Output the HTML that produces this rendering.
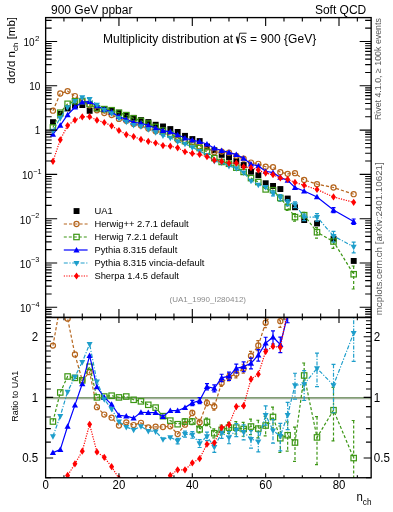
<!DOCTYPE html><html><head><meta charset="utf-8"><style>html,body{margin:0;padding:0;background:#fff;}svg{display:block;font-family:"Liberation Sans",sans-serif;will-change:transform;}</style></head><body>
<svg width="393" height="512" viewBox="0 0 393 512">
<rect width="393" height="512" fill="#fff"/>
<defs><clipPath id="cu"><rect x="45.65" y="17.6" width="325.5" height="299.84999999999997"/></clipPath><clipPath id="cr"><rect x="45.65" y="317.45" width="325.5" height="160.3"/></clipPath></defs>
<g clip-path="url(#cu)"><rect x="50.04" y="119.20" width="5.9" height="5.9" fill="#000"/><rect x="57.37" y="110.90" width="5.9" height="5.9" fill="#000"/><rect x="64.70" y="105.50" width="5.9" height="5.9" fill="#000"/><rect x="72.04" y="102.60" width="5.9" height="5.9" fill="#000"/><rect x="79.38" y="102.10" width="5.9" height="5.9" fill="#000"/><rect x="86.71" y="107.90" width="5.9" height="5.9" fill="#000"/><rect x="94.04" y="105.30" width="5.9" height="5.9" fill="#000"/><rect x="101.38" y="106.40" width="5.9" height="5.9" fill="#000"/><rect x="108.72" y="107.70" width="5.9" height="5.9" fill="#000"/><rect x="116.05" y="109.80" width="5.9" height="5.9" fill="#000"/><rect x="123.38" y="112.40" width="5.9" height="5.9" fill="#000"/><rect x="130.72" y="114.90" width="5.9" height="5.9" fill="#000"/><rect x="138.06" y="117.10" width="5.9" height="5.9" fill="#000"/><rect x="145.39" y="119.10" width="5.9" height="5.9" fill="#000"/><rect x="152.72" y="121.80" width="5.9" height="5.9" fill="#000"/><rect x="160.06" y="123.50" width="5.9" height="5.9" fill="#000"/><rect x="167.39" y="126.10" width="5.9" height="5.9" fill="#000"/><rect x="174.73" y="129.00" width="5.9" height="5.9" fill="#000"/><rect x="182.06" y="132.90" width="5.9" height="5.9" fill="#000"/><rect x="189.40" y="136.10" width="5.9" height="5.9" fill="#000"/><rect x="196.73" y="138.10" width="5.9" height="5.9" fill="#000"/><rect x="204.07" y="143.50" width="5.9" height="5.9" fill="#000"/><rect x="211.41" y="147.30" width="5.9" height="5.9" fill="#000"/><rect x="218.74" y="151.90" width="5.9" height="5.9" fill="#000"/><rect x="226.07" y="154.20" width="5.9" height="5.9" fill="#000"/><rect x="233.41" y="158.10" width="5.9" height="5.9" fill="#000"/><rect x="240.74" y="162.10" width="5.9" height="5.9" fill="#000"/><rect x="248.08" y="168.80" width="5.9" height="5.9" fill="#000"/><rect x="255.41" y="172.30" width="5.9" height="5.9" fill="#000"/><rect x="262.75" y="180.30" width="5.9" height="5.9" fill="#000"/><rect x="270.09" y="183.00" width="5.9" height="5.9" fill="#000"/><rect x="277.42" y="186.10" width="5.9" height="5.9" fill="#000"/><rect x="284.76" y="195.60" width="5.9" height="5.9" fill="#000"/><rect x="292.09" y="204.30" width="5.9" height="5.9" fill="#000"/><rect x="301.26" y="217.10" width="5.9" height="5.9" fill="#000"/><rect x="314.10" y="220.50" width="5.9" height="5.9" fill="#000"/><rect x="330.60" y="235.80" width="5.9" height="5.9" fill="#000"/><rect x="350.77" y="258.00" width="5.9" height="5.9" fill="#000"/><path d="M52.94,110.72 L60.27,93.52 L67.61,91.08 L74.94,96.06 L82.28,101.25 L89.61,105.26 L96.94,110.36 L104.28,113.07 L111.62,115.06 L118.95,118.89 L126.28,120.78 L133.62,123.88 L140.96,125.59 L148.29,128.62 L155.62,131.15 L162.96,132.91 L170.29,135.35 L177.63,139.95 L184.97,141.80 L192.30,142.42 L199.63,146.48 L206.97,147.61 L214.31,152.23 L221.64,151.62 L228.97,152.65 L236.31,155.80 L243.64,158.66 L250.98,162.57 L258.31,163.78 L265.65,166.76 L272.99,167.08 L280.32,172.24 L287.66,173.86 L294.99,173.21 L304.16,179.99 L317.00,184.13 L333.50,187.52 L353.67,194.22" fill="none" stroke="#b5651d" stroke-width="1.2" stroke-dasharray="3.2,2"/><circle cx="52.94" cy="110.72" r="2.55" fill="none" stroke="#b5651d" stroke-width="1.2"/><circle cx="60.27" cy="93.52" r="2.55" fill="none" stroke="#b5651d" stroke-width="1.2"/><circle cx="67.61" cy="91.08" r="2.55" fill="none" stroke="#b5651d" stroke-width="1.2"/><circle cx="74.94" cy="96.06" r="2.55" fill="none" stroke="#b5651d" stroke-width="1.2"/><circle cx="82.28" cy="101.25" r="2.55" fill="none" stroke="#b5651d" stroke-width="1.2"/><circle cx="89.61" cy="105.26" r="2.55" fill="none" stroke="#b5651d" stroke-width="1.2"/><circle cx="96.94" cy="110.36" r="2.55" fill="none" stroke="#b5651d" stroke-width="1.2"/><circle cx="104.28" cy="113.07" r="2.55" fill="none" stroke="#b5651d" stroke-width="1.2"/><circle cx="111.62" cy="115.06" r="2.55" fill="none" stroke="#b5651d" stroke-width="1.2"/><circle cx="118.95" cy="118.89" r="2.55" fill="none" stroke="#b5651d" stroke-width="1.2"/><circle cx="126.28" cy="120.78" r="2.55" fill="none" stroke="#b5651d" stroke-width="1.2"/><circle cx="133.62" cy="123.88" r="2.55" fill="none" stroke="#b5651d" stroke-width="1.2"/><circle cx="140.96" cy="125.59" r="2.55" fill="none" stroke="#b5651d" stroke-width="1.2"/><circle cx="148.29" cy="128.62" r="2.55" fill="none" stroke="#b5651d" stroke-width="1.2"/><circle cx="155.62" cy="131.15" r="2.55" fill="none" stroke="#b5651d" stroke-width="1.2"/><circle cx="162.96" cy="132.91" r="2.55" fill="none" stroke="#b5651d" stroke-width="1.2"/><circle cx="170.29" cy="135.35" r="2.55" fill="none" stroke="#b5651d" stroke-width="1.2"/><circle cx="177.63" cy="139.95" r="2.55" fill="none" stroke="#b5651d" stroke-width="1.2"/><circle cx="184.97" cy="141.80" r="2.55" fill="none" stroke="#b5651d" stroke-width="1.2"/><circle cx="192.30" cy="142.42" r="2.55" fill="none" stroke="#b5651d" stroke-width="1.2"/><circle cx="199.63" cy="146.48" r="2.55" fill="none" stroke="#b5651d" stroke-width="1.2"/><circle cx="206.97" cy="147.61" r="2.55" fill="none" stroke="#b5651d" stroke-width="1.2"/><circle cx="214.31" cy="152.23" r="2.55" fill="none" stroke="#b5651d" stroke-width="1.2"/><circle cx="221.64" cy="151.62" r="2.55" fill="none" stroke="#b5651d" stroke-width="1.2"/><circle cx="228.97" cy="152.65" r="2.55" fill="none" stroke="#b5651d" stroke-width="1.2"/><circle cx="236.31" cy="155.80" r="2.55" fill="none" stroke="#b5651d" stroke-width="1.2"/><circle cx="243.64" cy="158.66" r="2.55" fill="none" stroke="#b5651d" stroke-width="1.2"/><circle cx="250.98" cy="162.57" r="2.55" fill="none" stroke="#b5651d" stroke-width="1.2"/><circle cx="258.31" cy="163.78" r="2.55" fill="none" stroke="#b5651d" stroke-width="1.2"/><circle cx="265.65" cy="166.76" r="2.55" fill="none" stroke="#b5651d" stroke-width="1.2"/><circle cx="272.99" cy="167.08" r="2.55" fill="none" stroke="#b5651d" stroke-width="1.2"/><circle cx="280.32" cy="172.24" r="2.55" fill="none" stroke="#b5651d" stroke-width="1.2"/><circle cx="287.66" cy="173.86" r="2.55" fill="none" stroke="#b5651d" stroke-width="1.2"/><circle cx="294.99" cy="173.21" r="2.55" fill="none" stroke="#b5651d" stroke-width="1.2"/><circle cx="304.16" cy="179.99" r="2.55" fill="none" stroke="#b5651d" stroke-width="1.2"/><circle cx="317.00" cy="184.13" r="2.55" fill="none" stroke="#b5651d" stroke-width="1.2"/><circle cx="333.50" cy="187.52" r="2.55" fill="none" stroke="#b5651d" stroke-width="1.2"/><circle cx="353.67" cy="194.22" r="2.55" fill="none" stroke="#b5651d" stroke-width="1.2"/><path d="M52.94,127.41 L60.27,112.72 L67.61,103.80 L74.94,101.21 L82.28,101.25 L89.61,104.05 L96.94,108.20 L104.28,109.11 L111.62,110.22 L118.95,112.70 L126.28,115.11 L133.62,118.33 L140.96,120.87 L148.29,123.63 L155.62,126.94 L162.96,130.53 L170.29,134.10 L177.63,137.80 L184.97,141.11 L192.30,144.31 L199.63,148.03 L206.97,151.78 L214.31,158.08 L221.64,161.94 L228.97,163.74 L236.31,167.64 L243.64,171.94 L250.98,178.10 L258.31,182.06 L265.65,189.39 L272.99,190.19 L280.32,197.98 L287.66,206.82 L294.99,217.12 L304.16,215.18 L317.00,232.20 L333.50,241.51 L353.67,274.24" fill="none" stroke="#3c9614" stroke-width="1.2" stroke-dasharray="3,2"/><path d="M280.32,195.29V201.11M278.32,195.29H282.32M278.32,201.11H282.32" stroke="#3c9614" stroke-width="1.2" fill="none" stroke-dasharray="3,2"/><path d="M287.66,203.87V210.30M285.66,203.87H289.66M285.66,210.30H289.66" stroke="#3c9614" stroke-width="1.2" fill="none" stroke-dasharray="3,2"/><path d="M294.99,213.71V221.27M292.99,213.71H296.99M292.99,221.27H296.99" stroke="#3c9614" stroke-width="1.2" fill="none" stroke-dasharray="3,2"/><path d="M304.16,212.44V218.37M302.16,212.44H306.16M302.16,218.37H306.16" stroke="#3c9614" stroke-width="1.2" fill="none" stroke-dasharray="3,2"/><path d="M317.00,227.65V238.17M315.00,227.65H319.00M315.00,238.17H319.00" stroke="#3c9614" stroke-width="1.2" fill="none" stroke-dasharray="3,2"/><path d="M333.50,236.52V248.28M331.50,236.52H335.50M331.50,248.28H335.50" stroke="#3c9614" stroke-width="1.2" fill="none" stroke-dasharray="3,2"/><path d="M353.67,265.98V289.01M351.67,265.98H355.67M351.67,289.01H355.67" stroke="#3c9614" stroke-width="1.2" fill="none" stroke-dasharray="3,2"/><rect x="50.23" y="124.71" width="5.4" height="5.4" fill="none" stroke="#3c9614" stroke-width="1.2"/><rect x="57.57" y="110.02" width="5.4" height="5.4" fill="none" stroke="#3c9614" stroke-width="1.2"/><rect x="64.91" y="101.10" width="5.4" height="5.4" fill="none" stroke="#3c9614" stroke-width="1.2"/><rect x="72.24" y="98.51" width="5.4" height="5.4" fill="none" stroke="#3c9614" stroke-width="1.2"/><rect x="79.58" y="98.55" width="5.4" height="5.4" fill="none" stroke="#3c9614" stroke-width="1.2"/><rect x="86.91" y="101.35" width="5.4" height="5.4" fill="none" stroke="#3c9614" stroke-width="1.2"/><rect x="94.24" y="105.50" width="5.4" height="5.4" fill="none" stroke="#3c9614" stroke-width="1.2"/><rect x="101.58" y="106.41" width="5.4" height="5.4" fill="none" stroke="#3c9614" stroke-width="1.2"/><rect x="108.92" y="107.52" width="5.4" height="5.4" fill="none" stroke="#3c9614" stroke-width="1.2"/><rect x="116.25" y="110.00" width="5.4" height="5.4" fill="none" stroke="#3c9614" stroke-width="1.2"/><rect x="123.58" y="112.41" width="5.4" height="5.4" fill="none" stroke="#3c9614" stroke-width="1.2"/><rect x="130.92" y="115.63" width="5.4" height="5.4" fill="none" stroke="#3c9614" stroke-width="1.2"/><rect x="138.26" y="118.17" width="5.4" height="5.4" fill="none" stroke="#3c9614" stroke-width="1.2"/><rect x="145.59" y="120.93" width="5.4" height="5.4" fill="none" stroke="#3c9614" stroke-width="1.2"/><rect x="152.93" y="124.24" width="5.4" height="5.4" fill="none" stroke="#3c9614" stroke-width="1.2"/><rect x="160.26" y="127.83" width="5.4" height="5.4" fill="none" stroke="#3c9614" stroke-width="1.2"/><rect x="167.59" y="131.40" width="5.4" height="5.4" fill="none" stroke="#3c9614" stroke-width="1.2"/><rect x="174.93" y="135.10" width="5.4" height="5.4" fill="none" stroke="#3c9614" stroke-width="1.2"/><rect x="182.27" y="138.41" width="5.4" height="5.4" fill="none" stroke="#3c9614" stroke-width="1.2"/><rect x="189.60" y="141.61" width="5.4" height="5.4" fill="none" stroke="#3c9614" stroke-width="1.2"/><rect x="196.94" y="145.33" width="5.4" height="5.4" fill="none" stroke="#3c9614" stroke-width="1.2"/><rect x="204.27" y="149.08" width="5.4" height="5.4" fill="none" stroke="#3c9614" stroke-width="1.2"/><rect x="211.61" y="155.38" width="5.4" height="5.4" fill="none" stroke="#3c9614" stroke-width="1.2"/><rect x="218.94" y="159.24" width="5.4" height="5.4" fill="none" stroke="#3c9614" stroke-width="1.2"/><rect x="226.28" y="161.04" width="5.4" height="5.4" fill="none" stroke="#3c9614" stroke-width="1.2"/><rect x="233.61" y="164.94" width="5.4" height="5.4" fill="none" stroke="#3c9614" stroke-width="1.2"/><rect x="240.94" y="169.24" width="5.4" height="5.4" fill="none" stroke="#3c9614" stroke-width="1.2"/><rect x="248.28" y="175.40" width="5.4" height="5.4" fill="none" stroke="#3c9614" stroke-width="1.2"/><rect x="255.62" y="179.36" width="5.4" height="5.4" fill="none" stroke="#3c9614" stroke-width="1.2"/><rect x="262.95" y="186.69" width="5.4" height="5.4" fill="none" stroke="#3c9614" stroke-width="1.2"/><rect x="270.29" y="187.49" width="5.4" height="5.4" fill="none" stroke="#3c9614" stroke-width="1.2"/><rect x="277.62" y="195.28" width="5.4" height="5.4" fill="none" stroke="#3c9614" stroke-width="1.2"/><rect x="284.96" y="204.12" width="5.4" height="5.4" fill="none" stroke="#3c9614" stroke-width="1.2"/><rect x="292.29" y="214.42" width="5.4" height="5.4" fill="none" stroke="#3c9614" stroke-width="1.2"/><rect x="301.46" y="212.48" width="5.4" height="5.4" fill="none" stroke="#3c9614" stroke-width="1.2"/><rect x="314.30" y="229.50" width="5.4" height="5.4" fill="none" stroke="#3c9614" stroke-width="1.2"/><rect x="330.80" y="238.81" width="5.4" height="5.4" fill="none" stroke="#3c9614" stroke-width="1.2"/><rect x="350.97" y="271.54" width="5.4" height="5.4" fill="none" stroke="#3c9614" stroke-width="1.2"/><path d="M52.94,134.24 L60.27,125.27 L67.61,114.75 L74.94,107.21 L82.28,102.01 L89.61,101.64 L96.94,105.90 L104.28,109.30 L111.62,112.14 L118.95,116.64 L126.28,119.43 L133.62,122.36 L140.96,123.26 L148.29,125.35 L155.62,128.05 L162.96,130.60 L170.29,131.92 L177.63,134.82 L184.97,138.04 L192.30,140.21 L199.63,141.71 L206.97,144.05 L214.31,148.21 L221.64,150.51 L228.97,152.43 L236.31,154.61 L243.64,158.23 L250.98,164.21 L258.31,165.92 L265.65,171.26 L272.99,172.66 L280.32,177.37 L287.66,180.41 L294.99,187.53 L304.16,191.06 L317.00,196.97 L333.50,209.98 L353.67,221.48" fill="none" stroke="#0000ff" stroke-width="1.2"/><path d="M333.50,207.62V212.67M331.50,207.62H335.50M331.50,212.67H335.50" stroke="#0000ff" stroke-width="1.2" fill="none"/><path d="M353.67,219.02V224.29M351.67,219.02H355.67M351.67,224.29H355.67" stroke="#0000ff" stroke-width="1.2" fill="none"/><path d="M52.94,131.14L56.04,136.64L49.84,136.64Z" fill="#0000ff"/><path d="M60.27,122.17L63.37,127.67L57.17,127.67Z" fill="#0000ff"/><path d="M67.61,111.65L70.70,117.15L64.51,117.15Z" fill="#0000ff"/><path d="M74.94,104.11L78.04,109.61L71.84,109.61Z" fill="#0000ff"/><path d="M82.28,98.91L85.38,104.41L79.18,104.41Z" fill="#0000ff"/><path d="M89.61,98.54L92.71,104.04L86.51,104.04Z" fill="#0000ff"/><path d="M96.94,102.80L100.04,108.30L93.84,108.30Z" fill="#0000ff"/><path d="M104.28,106.20L107.38,111.70L101.18,111.70Z" fill="#0000ff"/><path d="M111.62,109.04L114.72,114.54L108.52,114.54Z" fill="#0000ff"/><path d="M118.95,113.54L122.05,119.04L115.85,119.04Z" fill="#0000ff"/><path d="M126.28,116.33L129.38,121.83L123.19,121.83Z" fill="#0000ff"/><path d="M133.62,119.26L136.72,124.76L130.52,124.76Z" fill="#0000ff"/><path d="M140.96,120.16L144.06,125.66L137.86,125.66Z" fill="#0000ff"/><path d="M148.29,122.25L151.39,127.75L145.19,127.75Z" fill="#0000ff"/><path d="M155.62,124.95L158.72,130.45L152.53,130.45Z" fill="#0000ff"/><path d="M162.96,127.50L166.06,133.00L159.86,133.00Z" fill="#0000ff"/><path d="M170.29,128.82L173.39,134.32L167.19,134.32Z" fill="#0000ff"/><path d="M177.63,131.72L180.73,137.22L174.53,137.22Z" fill="#0000ff"/><path d="M184.97,134.94L188.06,140.44L181.87,140.44Z" fill="#0000ff"/><path d="M192.30,137.11L195.40,142.61L189.20,142.61Z" fill="#0000ff"/><path d="M199.63,138.61L202.73,144.11L196.53,144.11Z" fill="#0000ff"/><path d="M206.97,140.95L210.07,146.45L203.87,146.45Z" fill="#0000ff"/><path d="M214.31,145.11L217.41,150.61L211.21,150.61Z" fill="#0000ff"/><path d="M221.64,147.41L224.74,152.91L218.54,152.91Z" fill="#0000ff"/><path d="M228.97,149.33L232.07,154.83L225.88,154.83Z" fill="#0000ff"/><path d="M236.31,151.51L239.41,157.01L233.21,157.01Z" fill="#0000ff"/><path d="M243.64,155.13L246.74,160.63L240.54,160.63Z" fill="#0000ff"/><path d="M250.98,161.11L254.08,166.61L247.88,166.61Z" fill="#0000ff"/><path d="M258.31,162.82L261.42,168.32L255.22,168.32Z" fill="#0000ff"/><path d="M265.65,168.16L268.75,173.66L262.55,173.66Z" fill="#0000ff"/><path d="M272.99,169.56L276.09,175.06L269.88,175.06Z" fill="#0000ff"/><path d="M280.32,174.27L283.42,179.77L277.22,179.77Z" fill="#0000ff"/><path d="M287.66,177.31L290.76,182.81L284.56,182.81Z" fill="#0000ff"/><path d="M294.99,184.43L298.09,189.93L291.89,189.93Z" fill="#0000ff"/><path d="M304.16,187.96L307.26,193.46L301.06,193.46Z" fill="#0000ff"/><path d="M317.00,193.87L320.10,199.37L313.89,199.37Z" fill="#0000ff"/><path d="M333.50,206.88L336.60,212.38L330.40,212.38Z" fill="#0000ff"/><path d="M353.67,218.38L356.77,223.88L350.57,223.88Z" fill="#0000ff"/><path d="M52.94,130.66 L60.27,117.90 L67.61,107.13 L74.94,100.98 L82.28,97.21 L89.61,99.07 L96.94,104.69 L104.28,109.73 L111.62,113.17 L118.95,118.01 L126.28,121.81 L133.62,124.94 L140.96,126.35 L148.29,129.36 L155.62,132.18 L162.96,135.60 L170.29,137.77 L177.63,141.50 L184.97,143.85 L192.30,147.23 L199.63,151.12 L206.97,154.96 L214.31,161.12 L221.64,162.59 L228.97,165.90 L236.31,168.14 L243.64,172.62 L250.98,180.84 L258.31,184.87 L265.65,187.07 L272.99,193.18 L280.32,197.50 L287.66,202.37 L294.99,204.53 L304.16,217.13 L317.00,217.01 L333.50,236.03 L353.67,246.76" fill="none" stroke="#1e9ecb" stroke-width="1.2" stroke-dasharray="4,1.6,1.2,1.6"/><path d="M272.99,190.76V195.95M270.99,190.76H274.99M270.99,195.95H274.99" stroke="#1e9ecb" stroke-width="1.2" fill="none" stroke-dasharray="4,1.6,1.2,1.6"/><path d="M280.32,194.71V200.75M278.32,194.71H282.32M278.32,200.75H282.32" stroke="#1e9ecb" stroke-width="1.2" fill="none" stroke-dasharray="4,1.6,1.2,1.6"/><path d="M287.66,199.59V205.60M285.66,199.59H289.66M285.66,205.60H289.66" stroke="#1e9ecb" stroke-width="1.2" fill="none" stroke-dasharray="4,1.6,1.2,1.6"/><path d="M294.99,201.89V207.58M292.99,201.89H296.99M292.99,207.58H296.99" stroke="#1e9ecb" stroke-width="1.2" fill="none" stroke-dasharray="4,1.6,1.2,1.6"/><path d="M304.16,214.13V220.69M302.16,214.13H306.16M302.16,220.69H306.16" stroke="#1e9ecb" stroke-width="1.2" fill="none" stroke-dasharray="4,1.6,1.2,1.6"/><path d="M317.00,213.68V221.03M315.00,213.68H319.00M315.00,221.03H319.00" stroke="#1e9ecb" stroke-width="1.2" fill="none" stroke-dasharray="4,1.6,1.2,1.6"/><path d="M333.50,231.43V242.08M331.50,231.43H335.50M331.50,242.08H335.50" stroke="#1e9ecb" stroke-width="1.2" fill="none" stroke-dasharray="4,1.6,1.2,1.6"/><path d="M353.67,242.08V252.97M351.67,242.08H355.67M351.67,252.97H355.67" stroke="#1e9ecb" stroke-width="1.2" fill="none" stroke-dasharray="4,1.6,1.2,1.6"/><path d="M52.94,134.16L55.94,128.66L49.94,128.66Z" fill="#1e9ecb"/><path d="M60.27,121.40L63.27,115.90L57.27,115.90Z" fill="#1e9ecb"/><path d="M67.61,110.63L70.61,105.13L64.61,105.13Z" fill="#1e9ecb"/><path d="M74.94,104.48L77.94,98.98L71.94,98.98Z" fill="#1e9ecb"/><path d="M82.28,100.71L85.28,95.21L79.28,95.21Z" fill="#1e9ecb"/><path d="M89.61,102.57L92.61,97.07L86.61,97.07Z" fill="#1e9ecb"/><path d="M96.94,108.19L99.94,102.69L93.94,102.69Z" fill="#1e9ecb"/><path d="M104.28,113.23L107.28,107.73L101.28,107.73Z" fill="#1e9ecb"/><path d="M111.62,116.67L114.62,111.17L108.62,111.17Z" fill="#1e9ecb"/><path d="M118.95,121.51L121.95,116.01L115.95,116.01Z" fill="#1e9ecb"/><path d="M126.28,125.31L129.28,119.81L123.28,119.81Z" fill="#1e9ecb"/><path d="M133.62,128.44L136.62,122.94L130.62,122.94Z" fill="#1e9ecb"/><path d="M140.96,129.85L143.96,124.35L137.96,124.35Z" fill="#1e9ecb"/><path d="M148.29,132.86L151.29,127.36L145.29,127.36Z" fill="#1e9ecb"/><path d="M155.62,135.68L158.62,130.18L152.62,130.18Z" fill="#1e9ecb"/><path d="M162.96,139.10L165.96,133.60L159.96,133.60Z" fill="#1e9ecb"/><path d="M170.29,141.27L173.29,135.77L167.29,135.77Z" fill="#1e9ecb"/><path d="M177.63,145.00L180.63,139.50L174.63,139.50Z" fill="#1e9ecb"/><path d="M184.97,147.35L187.97,141.85L181.97,141.85Z" fill="#1e9ecb"/><path d="M192.30,150.73L195.30,145.23L189.30,145.23Z" fill="#1e9ecb"/><path d="M199.63,154.62L202.63,149.12L196.63,149.12Z" fill="#1e9ecb"/><path d="M206.97,158.46L209.97,152.96L203.97,152.96Z" fill="#1e9ecb"/><path d="M214.31,164.62L217.31,159.12L211.31,159.12Z" fill="#1e9ecb"/><path d="M221.64,166.09L224.64,160.59L218.64,160.59Z" fill="#1e9ecb"/><path d="M228.97,169.40L231.97,163.90L225.97,163.90Z" fill="#1e9ecb"/><path d="M236.31,171.64L239.31,166.14L233.31,166.14Z" fill="#1e9ecb"/><path d="M243.64,176.12L246.64,170.62L240.64,170.62Z" fill="#1e9ecb"/><path d="M250.98,184.34L253.98,178.84L247.98,178.84Z" fill="#1e9ecb"/><path d="M258.31,188.37L261.31,182.87L255.31,182.87Z" fill="#1e9ecb"/><path d="M265.65,190.57L268.65,185.07L262.65,185.07Z" fill="#1e9ecb"/><path d="M272.99,196.68L275.99,191.18L269.99,191.18Z" fill="#1e9ecb"/><path d="M280.32,201.00L283.32,195.50L277.32,195.50Z" fill="#1e9ecb"/><path d="M287.66,205.87L290.66,200.37L284.66,200.37Z" fill="#1e9ecb"/><path d="M294.99,208.03L297.99,202.53L291.99,202.53Z" fill="#1e9ecb"/><path d="M304.16,220.63L307.16,215.13L301.16,215.13Z" fill="#1e9ecb"/><path d="M317.00,220.51L320.00,215.01L314.00,215.01Z" fill="#1e9ecb"/><path d="M333.50,239.53L336.50,234.03L330.50,234.03Z" fill="#1e9ecb"/><path d="M353.67,250.26L356.67,244.76L350.67,244.76Z" fill="#1e9ecb"/><path d="M52.94,161.35 L60.27,139.79 L67.61,125.55 L74.94,120.11 L82.28,116.82 L89.61,116.72 L96.94,120.20 L104.28,122.48 L111.62,125.83 L118.95,130.52 L126.28,134.53 L133.62,136.62 L140.96,139.39 L148.29,141.39 L155.62,143.01 L162.96,145.53 L170.29,146.15 L177.63,147.83 L184.97,151.73 L192.30,153.40 L199.63,154.45 L206.97,156.68 L214.31,160.19 L221.64,161.44 L228.97,163.08 L236.31,163.03 L243.64,166.86 L250.98,167.69 L258.31,170.11 L265.65,173.10 L272.99,174.70 L280.32,178.01 L287.66,179.32 L294.99,182.40 L304.16,185.37 L317.00,189.48 L333.50,196.97 L353.67,202.33" fill="none" stroke="#ff0000" stroke-width="1.2" stroke-dasharray="1.2,1.3"/><path d="M52.94,157.75L55.44,161.35L52.94,164.95L50.44,161.35Z" fill="#ff0000"/><path d="M60.27,136.19L62.77,139.79L60.27,143.39L57.77,139.79Z" fill="#ff0000"/><path d="M67.61,121.95L70.11,125.55L67.61,129.15L65.11,125.55Z" fill="#ff0000"/><path d="M74.94,116.51L77.44,120.11L74.94,123.71L72.44,120.11Z" fill="#ff0000"/><path d="M82.28,113.22L84.78,116.82L82.28,120.42L79.78,116.82Z" fill="#ff0000"/><path d="M89.61,113.12L92.11,116.72L89.61,120.32L87.11,116.72Z" fill="#ff0000"/><path d="M96.94,116.60L99.44,120.20L96.94,123.80L94.44,120.20Z" fill="#ff0000"/><path d="M104.28,118.88L106.78,122.48L104.28,126.08L101.78,122.48Z" fill="#ff0000"/><path d="M111.62,122.23L114.12,125.83L111.62,129.43L109.12,125.83Z" fill="#ff0000"/><path d="M118.95,126.92L121.45,130.52L118.95,134.12L116.45,130.52Z" fill="#ff0000"/><path d="M126.28,130.93L128.78,134.53L126.28,138.13L123.78,134.53Z" fill="#ff0000"/><path d="M133.62,133.02L136.12,136.62L133.62,140.22L131.12,136.62Z" fill="#ff0000"/><path d="M140.96,135.79L143.46,139.39L140.96,142.99L138.46,139.39Z" fill="#ff0000"/><path d="M148.29,137.79L150.79,141.39L148.29,144.99L145.79,141.39Z" fill="#ff0000"/><path d="M155.62,139.41L158.12,143.01L155.62,146.61L153.12,143.01Z" fill="#ff0000"/><path d="M162.96,141.93L165.46,145.53L162.96,149.13L160.46,145.53Z" fill="#ff0000"/><path d="M170.29,142.55L172.79,146.15L170.29,149.75L167.79,146.15Z" fill="#ff0000"/><path d="M177.63,144.23L180.13,147.83L177.63,151.43L175.13,147.83Z" fill="#ff0000"/><path d="M184.97,148.13L187.47,151.73L184.97,155.33L182.47,151.73Z" fill="#ff0000"/><path d="M192.30,149.80L194.80,153.40L192.30,157.00L189.80,153.40Z" fill="#ff0000"/><path d="M199.63,150.85L202.13,154.45L199.63,158.05L197.13,154.45Z" fill="#ff0000"/><path d="M206.97,153.08L209.47,156.68L206.97,160.28L204.47,156.68Z" fill="#ff0000"/><path d="M214.31,156.59L216.81,160.19L214.31,163.79L211.81,160.19Z" fill="#ff0000"/><path d="M221.64,157.84L224.14,161.44L221.64,165.04L219.14,161.44Z" fill="#ff0000"/><path d="M228.97,159.48L231.47,163.08L228.97,166.68L226.47,163.08Z" fill="#ff0000"/><path d="M236.31,159.43L238.81,163.03L236.31,166.63L233.81,163.03Z" fill="#ff0000"/><path d="M243.64,163.26L246.14,166.86L243.64,170.46L241.14,166.86Z" fill="#ff0000"/><path d="M250.98,164.09L253.48,167.69L250.98,171.29L248.48,167.69Z" fill="#ff0000"/><path d="M258.31,166.51L260.81,170.11L258.31,173.71L255.81,170.11Z" fill="#ff0000"/><path d="M265.65,169.50L268.15,173.10L265.65,176.70L263.15,173.10Z" fill="#ff0000"/><path d="M272.99,171.10L275.49,174.70L272.99,178.30L270.49,174.70Z" fill="#ff0000"/><path d="M280.32,174.41L282.82,178.01L280.32,181.61L277.82,178.01Z" fill="#ff0000"/><path d="M287.66,175.72L290.16,179.32L287.66,182.92L285.16,179.32Z" fill="#ff0000"/><path d="M294.99,178.80L297.49,182.40L294.99,186.00L292.49,182.40Z" fill="#ff0000"/><path d="M304.16,181.77L306.66,185.37L304.16,188.97L301.66,185.37Z" fill="#ff0000"/><path d="M317.00,185.88L319.50,189.48L317.00,193.08L314.50,189.48Z" fill="#ff0000"/><path d="M333.50,193.37L336.00,196.97L333.50,200.57L331.00,196.97Z" fill="#ff0000"/><path d="M353.67,198.73L356.17,202.33L353.67,205.93L351.17,202.33Z" fill="#ff0000"/></g>
<g clip-path="url(#cr)"><path d="M45.65,399.00H371.15" stroke="#c8c8c8" stroke-width="0.9"/><path d="M45.65,397.80H371.15" stroke="#587c47" stroke-width="1.3"/><path d="M52.94,345.62 L60.27,305.14 L67.61,318.63 L74.94,354.48 L82.28,380.36 L89.61,372.18 L96.94,407.21 L104.28,414.55 L111.62,417.70 L118.95,425.54 L126.28,422.34 L133.62,425.06 L140.96,422.81 L148.29,427.49 L155.62,426.76 L162.96,427.00 L170.29,426.27 L177.63,434.03 L184.97,424.70 L192.30,412.97 L199.63,422.34 L206.97,402.91 L214.31,406.62 L221.64,382.92 L228.97,377.18 L236.31,373.77 L243.64,368.58 L250.98,355.89 L258.31,345.48 L265.65,322.63 L272.99,311.79 L280.32,321.15 L287.66,285.31 L294.99,242.82 L304.16,215.43 L317.00,218.77 L333.50,164.60 L353.67,94.11" fill="none" stroke="#b5651d" stroke-width="1.2" stroke-dasharray="3.2,2"/><path d="M192.30,410.46V415.55M190.30,410.46H194.30M190.30,415.55H194.30" stroke="#b5651d" stroke-width="1.2" fill="none" stroke-dasharray="3.2,2"/><path d="M199.63,419.38V425.41M197.63,419.38H201.63M197.63,425.41H201.63" stroke="#b5651d" stroke-width="1.2" fill="none" stroke-dasharray="3.2,2"/><path d="M206.97,399.93V405.99M204.97,399.93H208.97M204.97,405.99H208.97" stroke="#b5651d" stroke-width="1.2" fill="none" stroke-dasharray="3.2,2"/><path d="M214.31,403.21V410.16M212.31,403.21H216.31M212.31,410.16H216.31" stroke="#b5651d" stroke-width="1.2" fill="none" stroke-dasharray="3.2,2"/><path d="M221.64,379.57V386.39M219.64,379.57H223.64M219.64,386.39H223.64" stroke="#b5651d" stroke-width="1.2" fill="none" stroke-dasharray="3.2,2"/><path d="M228.97,373.55V380.96M226.97,373.55H230.97M226.97,380.96H230.97" stroke="#b5651d" stroke-width="1.2" fill="none" stroke-dasharray="3.2,2"/><path d="M236.31,369.79V377.94M234.31,369.79H238.31M234.31,377.94H238.31" stroke="#b5651d" stroke-width="1.2" fill="none" stroke-dasharray="3.2,2"/><path d="M243.64,364.25V373.14M241.64,364.25H245.64M241.64,373.14H245.64" stroke="#b5651d" stroke-width="1.2" fill="none" stroke-dasharray="3.2,2"/><path d="M250.98,351.36V360.66M248.98,351.36H252.98M248.98,360.66H252.98" stroke="#b5651d" stroke-width="1.2" fill="none" stroke-dasharray="3.2,2"/><path d="M258.31,340.70V350.53M256.31,340.70H260.31M256.31,350.53H260.31" stroke="#b5651d" stroke-width="1.2" fill="none" stroke-dasharray="3.2,2"/><path d="M265.65,317.92V327.61M263.65,317.92H267.65M263.65,327.61H267.65" stroke="#b5651d" stroke-width="1.2" fill="none" stroke-dasharray="3.2,2"/><path d="M272.99,306.82V317.05M270.99,306.82H274.99M270.99,317.05H274.99" stroke="#b5651d" stroke-width="1.2" fill="none" stroke-dasharray="3.2,2"/><path d="M280.32,315.30V327.43M278.32,315.30H282.32M278.32,327.43H282.32" stroke="#b5651d" stroke-width="1.2" fill="none" stroke-dasharray="3.2,2"/><path d="M287.66,279.93V291.03M285.66,279.93H289.66M285.66,291.03H289.66" stroke="#b5651d" stroke-width="1.2" fill="none" stroke-dasharray="3.2,2"/><path d="M294.99,238.07V247.84M292.99,238.07H296.99M292.99,247.84H296.99" stroke="#b5651d" stroke-width="1.2" fill="none" stroke-dasharray="3.2,2"/><path d="M304.16,210.73V220.39M302.16,210.73H306.16M302.16,220.39H306.16" stroke="#b5651d" stroke-width="1.2" fill="none" stroke-dasharray="3.2,2"/><path d="M317.00,212.95V225.01M315.00,212.95H319.00M315.00,225.01H319.00" stroke="#b5651d" stroke-width="1.2" fill="none" stroke-dasharray="3.2,2"/><path d="M333.50,159.04V170.54M331.50,159.04H335.50M331.50,170.54H335.50" stroke="#b5651d" stroke-width="1.2" fill="none" stroke-dasharray="3.2,2"/><path d="M353.67,88.99V99.56M351.67,88.99H355.67M351.67,99.56H355.67" stroke="#b5651d" stroke-width="1.2" fill="none" stroke-dasharray="3.2,2"/><circle cx="52.94" cy="345.62" r="2.55" fill="none" stroke="#b5651d" stroke-width="1.2"/><circle cx="60.27" cy="305.14" r="2.55" fill="none" stroke="#b5651d" stroke-width="1.2"/><circle cx="67.61" cy="318.63" r="2.55" fill="none" stroke="#b5651d" stroke-width="1.2"/><circle cx="74.94" cy="354.48" r="2.55" fill="none" stroke="#b5651d" stroke-width="1.2"/><circle cx="82.28" cy="380.36" r="2.55" fill="none" stroke="#b5651d" stroke-width="1.2"/><circle cx="89.61" cy="372.18" r="2.55" fill="none" stroke="#b5651d" stroke-width="1.2"/><circle cx="96.94" cy="407.21" r="2.55" fill="none" stroke="#b5651d" stroke-width="1.2"/><circle cx="104.28" cy="414.55" r="2.55" fill="none" stroke="#b5651d" stroke-width="1.2"/><circle cx="111.62" cy="417.70" r="2.55" fill="none" stroke="#b5651d" stroke-width="1.2"/><circle cx="118.95" cy="425.54" r="2.55" fill="none" stroke="#b5651d" stroke-width="1.2"/><circle cx="126.28" cy="422.34" r="2.55" fill="none" stroke="#b5651d" stroke-width="1.2"/><circle cx="133.62" cy="425.06" r="2.55" fill="none" stroke="#b5651d" stroke-width="1.2"/><circle cx="140.96" cy="422.81" r="2.55" fill="none" stroke="#b5651d" stroke-width="1.2"/><circle cx="148.29" cy="427.49" r="2.55" fill="none" stroke="#b5651d" stroke-width="1.2"/><circle cx="155.62" cy="426.76" r="2.55" fill="none" stroke="#b5651d" stroke-width="1.2"/><circle cx="162.96" cy="427.00" r="2.55" fill="none" stroke="#b5651d" stroke-width="1.2"/><circle cx="170.29" cy="426.27" r="2.55" fill="none" stroke="#b5651d" stroke-width="1.2"/><circle cx="177.63" cy="434.03" r="2.55" fill="none" stroke="#b5651d" stroke-width="1.2"/><circle cx="184.97" cy="424.70" r="2.55" fill="none" stroke="#b5651d" stroke-width="1.2"/><circle cx="192.30" cy="412.97" r="2.55" fill="none" stroke="#b5651d" stroke-width="1.2"/><circle cx="199.63" cy="422.34" r="2.55" fill="none" stroke="#b5651d" stroke-width="1.2"/><circle cx="206.97" cy="402.91" r="2.55" fill="none" stroke="#b5651d" stroke-width="1.2"/><circle cx="214.31" cy="406.62" r="2.55" fill="none" stroke="#b5651d" stroke-width="1.2"/><circle cx="221.64" cy="382.92" r="2.55" fill="none" stroke="#b5651d" stroke-width="1.2"/><circle cx="228.97" cy="377.18" r="2.55" fill="none" stroke="#b5651d" stroke-width="1.2"/><circle cx="236.31" cy="373.77" r="2.55" fill="none" stroke="#b5651d" stroke-width="1.2"/><circle cx="243.64" cy="368.58" r="2.55" fill="none" stroke="#b5651d" stroke-width="1.2"/><circle cx="250.98" cy="355.89" r="2.55" fill="none" stroke="#b5651d" stroke-width="1.2"/><circle cx="258.31" cy="345.48" r="2.55" fill="none" stroke="#b5651d" stroke-width="1.2"/><circle cx="265.65" cy="322.63" r="2.55" fill="none" stroke="#b5651d" stroke-width="1.2"/><circle cx="272.99" cy="311.79" r="2.55" fill="none" stroke="#b5651d" stroke-width="1.2"/><circle cx="280.32" cy="321.15" r="2.55" fill="none" stroke="#b5651d" stroke-width="1.2"/><circle cx="287.66" cy="285.31" r="2.55" fill="none" stroke="#b5651d" stroke-width="1.2"/><circle cx="294.99" cy="242.82" r="2.55" fill="none" stroke="#b5651d" stroke-width="1.2"/><circle cx="304.16" cy="215.43" r="2.55" fill="none" stroke="#b5651d" stroke-width="1.2"/><circle cx="317.00" cy="218.77" r="2.55" fill="none" stroke="#b5651d" stroke-width="1.2"/><circle cx="333.50" cy="164.60" r="2.55" fill="none" stroke="#b5651d" stroke-width="1.2"/><circle cx="353.67" cy="94.11" r="2.55" fill="none" stroke="#b5651d" stroke-width="1.2"/><path d="M52.94,421.53 L60.27,392.47 L67.61,376.48 L74.94,377.87 L82.28,380.36 L89.61,366.71 L96.94,397.40 L104.28,396.53 L111.62,395.67 L118.95,397.40 L126.28,396.53 L133.62,399.80 L140.96,401.34 L148.29,404.79 L155.62,407.60 L162.96,416.16 L170.29,420.61 L177.63,424.22 L184.97,421.53 L192.30,421.53 L199.63,429.37 L206.97,421.88 L214.31,433.23 L221.64,429.87 L228.97,427.62 L236.31,427.62 L243.64,428.99 L250.98,426.51 L258.31,428.61 L265.65,425.54 L272.99,416.93 L280.32,438.25 L287.66,435.23 L294.99,442.54 L304.16,375.46 L317.00,437.42 L333.50,410.19 L353.67,458.06" fill="none" stroke="#3c9614" stroke-width="1.2" stroke-dasharray="3,2"/><path d="M184.97,418.93V424.21M182.97,418.93H186.97M182.97,424.21H186.97" stroke="#3c9614" stroke-width="1.2" fill="none" stroke-dasharray="3,2"/><path d="M192.30,418.61V424.55M190.30,418.61H194.30M190.30,424.55H194.30" stroke="#3c9614" stroke-width="1.2" fill="none" stroke-dasharray="3,2"/><path d="M199.63,425.95V432.92M197.63,425.95H201.63M197.63,432.92H201.63" stroke="#3c9614" stroke-width="1.2" fill="none" stroke-dasharray="3,2"/><path d="M206.97,418.21V425.71M204.97,418.21H208.97M204.97,425.71H208.97" stroke="#3c9614" stroke-width="1.2" fill="none" stroke-dasharray="3,2"/><path d="M214.31,428.85V437.85M212.31,428.85H216.31M212.31,437.85H216.31" stroke="#3c9614" stroke-width="1.2" fill="none" stroke-dasharray="3,2"/><path d="M221.64,425.06V434.97M219.64,425.06H223.64M219.64,434.97H223.64" stroke="#3c9614" stroke-width="1.2" fill="none" stroke-dasharray="3,2"/><path d="M228.97,422.30V433.28M226.97,422.30H230.97M226.97,433.28H230.97" stroke="#3c9614" stroke-width="1.2" fill="none" stroke-dasharray="3,2"/><path d="M236.31,421.66V434.01M234.31,421.66H238.31M234.31,434.01H238.31" stroke="#3c9614" stroke-width="1.2" fill="none" stroke-dasharray="3,2"/><path d="M243.64,422.28V436.26M241.64,422.28H245.64M241.64,436.26H245.64" stroke="#3c9614" stroke-width="1.2" fill="none" stroke-dasharray="3,2"/><path d="M250.98,419.11V434.60M248.98,419.11H252.98M248.98,434.60H252.98" stroke="#3c9614" stroke-width="1.2" fill="none" stroke-dasharray="3,2"/><path d="M258.31,420.25V437.86M256.31,420.25H260.31M256.31,437.86H260.31" stroke="#3c9614" stroke-width="1.2" fill="none" stroke-dasharray="3,2"/><path d="M265.65,416.36V435.80M263.65,416.36H267.65M263.65,435.80H267.65" stroke="#3c9614" stroke-width="1.2" fill="none" stroke-dasharray="3,2"/><path d="M272.99,407.14V427.95M270.99,407.14H274.99M270.99,427.95H274.99" stroke="#3c9614" stroke-width="1.2" fill="none" stroke-dasharray="3,2"/><path d="M280.32,426.01V452.48M278.32,426.01H282.32M278.32,452.48H282.32" stroke="#3c9614" stroke-width="1.2" fill="none" stroke-dasharray="3,2"/><path d="M287.66,421.82V451.08M285.66,421.82H289.66M285.66,451.08H289.66" stroke="#3c9614" stroke-width="1.2" fill="none" stroke-dasharray="3,2"/><path d="M294.99,427.03V461.41M292.99,427.03H296.99M292.99,461.41H296.99" stroke="#3c9614" stroke-width="1.2" fill="none" stroke-dasharray="3,2"/><path d="M304.16,363.01V389.97M302.16,363.01H306.16M302.16,389.97H306.16" stroke="#3c9614" stroke-width="1.2" fill="none" stroke-dasharray="3,2"/><path d="M317.00,416.72V464.57M315.00,416.72H319.00M315.00,464.57H319.00" stroke="#3c9614" stroke-width="1.2" fill="none" stroke-dasharray="3,2"/><path d="M333.50,387.47V440.96M331.50,387.47H335.50M331.50,440.96H335.50" stroke="#3c9614" stroke-width="1.2" fill="none" stroke-dasharray="3,2"/><path d="M353.67,420.50V525.27M351.67,420.50H355.67M351.67,525.27H355.67" stroke="#3c9614" stroke-width="1.2" fill="none" stroke-dasharray="3,2"/><rect x="50.23" y="418.83" width="5.4" height="5.4" fill="none" stroke="#3c9614" stroke-width="1.2"/><rect x="57.57" y="389.77" width="5.4" height="5.4" fill="none" stroke="#3c9614" stroke-width="1.2"/><rect x="64.91" y="373.78" width="5.4" height="5.4" fill="none" stroke="#3c9614" stroke-width="1.2"/><rect x="72.24" y="375.17" width="5.4" height="5.4" fill="none" stroke="#3c9614" stroke-width="1.2"/><rect x="79.58" y="377.66" width="5.4" height="5.4" fill="none" stroke="#3c9614" stroke-width="1.2"/><rect x="86.91" y="364.01" width="5.4" height="5.4" fill="none" stroke="#3c9614" stroke-width="1.2"/><rect x="94.24" y="394.70" width="5.4" height="5.4" fill="none" stroke="#3c9614" stroke-width="1.2"/><rect x="101.58" y="393.83" width="5.4" height="5.4" fill="none" stroke="#3c9614" stroke-width="1.2"/><rect x="108.92" y="392.97" width="5.4" height="5.4" fill="none" stroke="#3c9614" stroke-width="1.2"/><rect x="116.25" y="394.70" width="5.4" height="5.4" fill="none" stroke="#3c9614" stroke-width="1.2"/><rect x="123.58" y="393.83" width="5.4" height="5.4" fill="none" stroke="#3c9614" stroke-width="1.2"/><rect x="130.92" y="397.10" width="5.4" height="5.4" fill="none" stroke="#3c9614" stroke-width="1.2"/><rect x="138.26" y="398.64" width="5.4" height="5.4" fill="none" stroke="#3c9614" stroke-width="1.2"/><rect x="145.59" y="402.09" width="5.4" height="5.4" fill="none" stroke="#3c9614" stroke-width="1.2"/><rect x="152.93" y="404.90" width="5.4" height="5.4" fill="none" stroke="#3c9614" stroke-width="1.2"/><rect x="160.26" y="413.46" width="5.4" height="5.4" fill="none" stroke="#3c9614" stroke-width="1.2"/><rect x="167.59" y="417.91" width="5.4" height="5.4" fill="none" stroke="#3c9614" stroke-width="1.2"/><rect x="174.93" y="421.52" width="5.4" height="5.4" fill="none" stroke="#3c9614" stroke-width="1.2"/><rect x="182.27" y="418.83" width="5.4" height="5.4" fill="none" stroke="#3c9614" stroke-width="1.2"/><rect x="189.60" y="418.83" width="5.4" height="5.4" fill="none" stroke="#3c9614" stroke-width="1.2"/><rect x="196.94" y="426.67" width="5.4" height="5.4" fill="none" stroke="#3c9614" stroke-width="1.2"/><rect x="204.27" y="419.18" width="5.4" height="5.4" fill="none" stroke="#3c9614" stroke-width="1.2"/><rect x="211.61" y="430.53" width="5.4" height="5.4" fill="none" stroke="#3c9614" stroke-width="1.2"/><rect x="218.94" y="427.17" width="5.4" height="5.4" fill="none" stroke="#3c9614" stroke-width="1.2"/><rect x="226.28" y="424.92" width="5.4" height="5.4" fill="none" stroke="#3c9614" stroke-width="1.2"/><rect x="233.61" y="424.92" width="5.4" height="5.4" fill="none" stroke="#3c9614" stroke-width="1.2"/><rect x="240.94" y="426.29" width="5.4" height="5.4" fill="none" stroke="#3c9614" stroke-width="1.2"/><rect x="248.28" y="423.81" width="5.4" height="5.4" fill="none" stroke="#3c9614" stroke-width="1.2"/><rect x="255.62" y="425.91" width="5.4" height="5.4" fill="none" stroke="#3c9614" stroke-width="1.2"/><rect x="262.95" y="422.84" width="5.4" height="5.4" fill="none" stroke="#3c9614" stroke-width="1.2"/><rect x="270.29" y="414.23" width="5.4" height="5.4" fill="none" stroke="#3c9614" stroke-width="1.2"/><rect x="277.62" y="435.55" width="5.4" height="5.4" fill="none" stroke="#3c9614" stroke-width="1.2"/><rect x="284.96" y="432.53" width="5.4" height="5.4" fill="none" stroke="#3c9614" stroke-width="1.2"/><rect x="292.29" y="439.84" width="5.4" height="5.4" fill="none" stroke="#3c9614" stroke-width="1.2"/><rect x="301.46" y="372.76" width="5.4" height="5.4" fill="none" stroke="#3c9614" stroke-width="1.2"/><rect x="314.30" y="434.72" width="5.4" height="5.4" fill="none" stroke="#3c9614" stroke-width="1.2"/><rect x="330.80" y="407.49" width="5.4" height="5.4" fill="none" stroke="#3c9614" stroke-width="1.2"/><rect x="350.97" y="455.36" width="5.4" height="5.4" fill="none" stroke="#3c9614" stroke-width="1.2"/><path d="M52.94,452.63 L60.27,449.56 L67.61,426.27 L74.94,405.17 L82.28,383.81 L89.61,355.72 L96.94,386.94 L104.28,397.40 L111.62,404.41 L118.95,415.30 L126.28,416.16 L133.62,418.14 L140.96,412.24 L148.29,412.66 L155.62,412.66 L162.96,416.49 L170.29,410.70 L177.63,410.70 L184.97,407.60 L192.30,402.91 L199.63,400.61 L206.97,386.70 L214.31,388.35 L221.64,377.87 L228.97,376.14 L236.31,368.33 L243.64,366.59 L250.98,363.33 L258.31,355.18 L265.65,343.09 L272.99,337.18 L280.32,344.52 L287.66,315.14 L294.99,307.92 L304.16,265.78 L317.00,277.19 L333.50,266.76 L353.67,218.09" fill="none" stroke="#0000ff" stroke-width="1.2"/><path d="M192.30,400.28V405.62M190.30,400.28H194.30M190.30,405.62H194.30" stroke="#0000ff" stroke-width="1.2" fill="none"/><path d="M199.63,397.70V403.62M197.63,397.70H201.63M197.63,403.62H201.63" stroke="#0000ff" stroke-width="1.2" fill="none"/><path d="M206.97,383.69V389.83M204.97,383.69H208.97M204.97,389.83H208.97" stroke="#0000ff" stroke-width="1.2" fill="none"/><path d="M214.31,384.94V391.89M212.31,384.94H216.31M212.31,391.89H216.31" stroke="#0000ff" stroke-width="1.2" fill="none"/><path d="M221.64,374.27V381.63M219.64,374.27H223.64M219.64,381.63H223.64" stroke="#0000ff" stroke-width="1.2" fill="none"/><path d="M228.97,372.14V380.33M226.97,372.14H230.97M226.97,380.33H230.97" stroke="#0000ff" stroke-width="1.2" fill="none"/><path d="M236.31,364.05V372.84M234.31,364.05H238.31M234.31,372.84H238.31" stroke="#0000ff" stroke-width="1.2" fill="none"/><path d="M243.64,361.84V371.61M241.64,361.84H245.64M241.64,371.61H245.64" stroke="#0000ff" stroke-width="1.2" fill="none"/><path d="M250.98,358.11V368.88M248.98,358.11H252.98M248.98,368.88H252.98" stroke="#0000ff" stroke-width="1.2" fill="none"/><path d="M258.31,349.60V361.15M256.31,349.60H260.31M256.31,361.15H260.31" stroke="#0000ff" stroke-width="1.2" fill="none"/><path d="M265.65,337.25V349.36M263.65,337.25H267.65M263.65,349.36H267.65" stroke="#0000ff" stroke-width="1.2" fill="none"/><path d="M272.99,330.85V344.00M270.99,330.85H274.99M270.99,344.00H274.99" stroke="#0000ff" stroke-width="1.2" fill="none"/><path d="M280.32,337.15V352.56M278.32,337.15H282.32M278.32,352.56H282.32" stroke="#0000ff" stroke-width="1.2" fill="none"/><path d="M287.66,308.13V322.76M285.66,308.13H289.66M285.66,322.76H289.66" stroke="#0000ff" stroke-width="1.2" fill="none"/><path d="M294.99,300.39V316.17M292.99,300.39H296.99M292.99,316.17H296.99" stroke="#0000ff" stroke-width="1.2" fill="none"/><path d="M304.16,258.91V273.23M302.16,258.91H306.16M302.16,273.23H306.16" stroke="#0000ff" stroke-width="1.2" fill="none"/><path d="M317.00,268.31V287.07M315.00,268.31H319.00M315.00,287.07H319.00" stroke="#0000ff" stroke-width="1.2" fill="none"/><path d="M333.50,256.01V279.00M331.50,256.01H335.50M331.50,279.00H335.50" stroke="#0000ff" stroke-width="1.2" fill="none"/><path d="M353.67,206.93V230.89M351.67,206.93H355.67M351.67,230.89H355.67" stroke="#0000ff" stroke-width="1.2" fill="none"/><path d="M52.94,449.53L56.04,455.03L49.84,455.03Z" fill="#0000ff"/><path d="M60.27,446.46L63.37,451.96L57.17,451.96Z" fill="#0000ff"/><path d="M67.61,423.17L70.70,428.67L64.51,428.67Z" fill="#0000ff"/><path d="M74.94,402.07L78.04,407.57L71.84,407.57Z" fill="#0000ff"/><path d="M82.28,380.71L85.38,386.21L79.18,386.21Z" fill="#0000ff"/><path d="M89.61,352.62L92.71,358.12L86.51,358.12Z" fill="#0000ff"/><path d="M96.94,383.84L100.04,389.34L93.84,389.34Z" fill="#0000ff"/><path d="M104.28,394.30L107.38,399.80L101.18,399.80Z" fill="#0000ff"/><path d="M111.62,401.31L114.72,406.81L108.52,406.81Z" fill="#0000ff"/><path d="M118.95,412.20L122.05,417.70L115.85,417.70Z" fill="#0000ff"/><path d="M126.28,413.06L129.38,418.56L123.19,418.56Z" fill="#0000ff"/><path d="M133.62,415.04L136.72,420.54L130.52,420.54Z" fill="#0000ff"/><path d="M140.96,409.14L144.06,414.64L137.86,414.64Z" fill="#0000ff"/><path d="M148.29,409.56L151.39,415.06L145.19,415.06Z" fill="#0000ff"/><path d="M155.62,409.56L158.72,415.06L152.53,415.06Z" fill="#0000ff"/><path d="M162.96,413.39L166.06,418.89L159.86,418.89Z" fill="#0000ff"/><path d="M170.29,407.60L173.39,413.10L167.19,413.10Z" fill="#0000ff"/><path d="M177.63,407.60L180.73,413.10L174.53,413.10Z" fill="#0000ff"/><path d="M184.97,404.50L188.06,410.00L181.87,410.00Z" fill="#0000ff"/><path d="M192.30,399.81L195.40,405.31L189.20,405.31Z" fill="#0000ff"/><path d="M199.63,397.51L202.73,403.01L196.53,403.01Z" fill="#0000ff"/><path d="M206.97,383.60L210.07,389.10L203.87,389.10Z" fill="#0000ff"/><path d="M214.31,385.25L217.41,390.75L211.21,390.75Z" fill="#0000ff"/><path d="M221.64,374.77L224.74,380.27L218.54,380.27Z" fill="#0000ff"/><path d="M228.97,373.04L232.07,378.54L225.88,378.54Z" fill="#0000ff"/><path d="M236.31,365.23L239.41,370.73L233.21,370.73Z" fill="#0000ff"/><path d="M243.64,363.49L246.74,368.99L240.54,368.99Z" fill="#0000ff"/><path d="M250.98,360.23L254.08,365.73L247.88,365.73Z" fill="#0000ff"/><path d="M258.31,352.08L261.42,357.58L255.22,357.58Z" fill="#0000ff"/><path d="M265.65,339.99L268.75,345.49L262.55,345.49Z" fill="#0000ff"/><path d="M272.99,334.08L276.09,339.58L269.88,339.58Z" fill="#0000ff"/><path d="M280.32,341.42L283.42,346.92L277.22,346.92Z" fill="#0000ff"/><path d="M287.66,312.04L290.76,317.54L284.56,317.54Z" fill="#0000ff"/><path d="M294.99,304.82L298.09,310.32L291.89,310.32Z" fill="#0000ff"/><path d="M304.16,262.68L307.26,268.18L301.06,268.18Z" fill="#0000ff"/><path d="M317.00,274.09L320.10,279.59L313.89,279.59Z" fill="#0000ff"/><path d="M333.50,263.66L336.60,269.16L330.40,269.16Z" fill="#0000ff"/><path d="M353.67,214.99L356.77,220.49L350.57,220.49Z" fill="#0000ff"/><path d="M52.94,436.32 L60.27,416.06 L67.61,391.64 L74.94,376.83 L82.28,361.98 L89.61,344.04 L96.94,381.44 L104.28,399.35 L111.62,409.09 L118.95,421.53 L126.28,427.00 L133.62,429.87 L140.96,426.27 L148.29,430.89 L155.62,431.41 L162.96,439.23 L170.29,437.28 L177.63,441.09 L184.97,434.03 L192.30,434.83 L199.63,443.43 L206.97,436.32 L214.31,447.05 L221.64,432.84 L228.97,437.42 L236.31,429.87 L243.64,432.05 L250.98,438.95 L258.31,441.38 L265.65,414.98 L272.99,430.51 L280.32,436.05 L287.66,414.98 L294.99,385.25 L304.16,384.34 L317.00,368.33 L333.50,385.25 L353.67,333.10" fill="none" stroke="#1e9ecb" stroke-width="1.2" stroke-dasharray="4,1.6,1.2,1.6"/><path d="M177.63,438.37V443.89M175.63,438.37H179.63M175.63,443.89H179.63" stroke="#1e9ecb" stroke-width="1.2" fill="none" stroke-dasharray="4,1.6,1.2,1.6"/><path d="M184.97,431.10V437.06M182.97,431.10H186.97M182.97,437.06H186.97" stroke="#1e9ecb" stroke-width="1.2" fill="none" stroke-dasharray="4,1.6,1.2,1.6"/><path d="M192.30,431.53V438.26M190.30,431.53H194.30M190.30,438.26H194.30" stroke="#1e9ecb" stroke-width="1.2" fill="none" stroke-dasharray="4,1.6,1.2,1.6"/><path d="M199.63,439.55V447.48M197.63,439.55H201.63M197.63,447.48H201.63" stroke="#1e9ecb" stroke-width="1.2" fill="none" stroke-dasharray="4,1.6,1.2,1.6"/><path d="M206.97,432.14V440.70M204.97,432.14H208.97M204.97,440.70H208.97" stroke="#1e9ecb" stroke-width="1.2" fill="none" stroke-dasharray="4,1.6,1.2,1.6"/><path d="M214.31,442.09V452.31M212.31,442.09H216.31M212.31,452.31H216.31" stroke="#1e9ecb" stroke-width="1.2" fill="none" stroke-dasharray="4,1.6,1.2,1.6"/><path d="M221.64,427.71V438.29M219.64,427.71H223.64M219.64,438.29H223.64" stroke="#1e9ecb" stroke-width="1.2" fill="none" stroke-dasharray="4,1.6,1.2,1.6"/><path d="M228.97,431.53V443.73M226.97,431.53H230.97M226.97,443.73H230.97" stroke="#1e9ecb" stroke-width="1.2" fill="none" stroke-dasharray="4,1.6,1.2,1.6"/><path d="M236.31,423.55V436.68M234.31,423.55H238.31M234.31,436.68H238.31" stroke="#1e9ecb" stroke-width="1.2" fill="none" stroke-dasharray="4,1.6,1.2,1.6"/><path d="M243.64,424.90V439.84M241.64,424.90H245.64M241.64,439.84H245.64" stroke="#1e9ecb" stroke-width="1.2" fill="none" stroke-dasharray="4,1.6,1.2,1.6"/><path d="M250.98,430.65V448.12M248.98,430.65H252.98M248.98,448.12H252.98" stroke="#1e9ecb" stroke-width="1.2" fill="none" stroke-dasharray="4,1.6,1.2,1.6"/><path d="M258.31,431.99V451.90M256.31,431.99H260.31M256.31,451.90H260.31" stroke="#1e9ecb" stroke-width="1.2" fill="none" stroke-dasharray="4,1.6,1.2,1.6"/><path d="M265.65,405.90V425.12M263.65,405.90H267.65M263.65,425.12H267.65" stroke="#1e9ecb" stroke-width="1.2" fill="none" stroke-dasharray="4,1.6,1.2,1.6"/><path d="M272.99,419.49V443.12M270.99,419.49H274.99M270.99,443.12H274.99" stroke="#1e9ecb" stroke-width="1.2" fill="none" stroke-dasharray="4,1.6,1.2,1.6"/><path d="M280.32,423.39V450.85M278.32,423.39H282.32M278.32,450.85H282.32" stroke="#1e9ecb" stroke-width="1.2" fill="none" stroke-dasharray="4,1.6,1.2,1.6"/><path d="M287.66,402.38V429.71M285.66,402.38H289.66M285.66,429.71H289.66" stroke="#1e9ecb" stroke-width="1.2" fill="none" stroke-dasharray="4,1.6,1.2,1.6"/><path d="M294.99,373.26V399.14M292.99,373.26H296.99M292.99,399.14H296.99" stroke="#1e9ecb" stroke-width="1.2" fill="none" stroke-dasharray="4,1.6,1.2,1.6"/><path d="M304.16,370.69V400.52M302.16,370.69H306.16M302.16,400.52H306.16" stroke="#1e9ecb" stroke-width="1.2" fill="none" stroke-dasharray="4,1.6,1.2,1.6"/><path d="M317.00,353.20V386.64M315.00,353.20H319.00M315.00,386.64H319.00" stroke="#1e9ecb" stroke-width="1.2" fill="none" stroke-dasharray="4,1.6,1.2,1.6"/><path d="M333.50,364.34V412.77M331.50,364.34H335.50M331.50,412.77H335.50" stroke="#1e9ecb" stroke-width="1.2" fill="none" stroke-dasharray="4,1.6,1.2,1.6"/><path d="M353.67,311.80V361.32M351.67,311.80H355.67M351.67,361.32H355.67" stroke="#1e9ecb" stroke-width="1.2" fill="none" stroke-dasharray="4,1.6,1.2,1.6"/><path d="M52.94,439.82L55.94,434.32L49.94,434.32Z" fill="#1e9ecb"/><path d="M60.27,419.56L63.27,414.06L57.27,414.06Z" fill="#1e9ecb"/><path d="M67.61,395.14L70.61,389.64L64.61,389.64Z" fill="#1e9ecb"/><path d="M74.94,380.33L77.94,374.83L71.94,374.83Z" fill="#1e9ecb"/><path d="M82.28,365.48L85.28,359.98L79.28,359.98Z" fill="#1e9ecb"/><path d="M89.61,347.54L92.61,342.04L86.61,342.04Z" fill="#1e9ecb"/><path d="M96.94,384.94L99.94,379.44L93.94,379.44Z" fill="#1e9ecb"/><path d="M104.28,402.85L107.28,397.35L101.28,397.35Z" fill="#1e9ecb"/><path d="M111.62,412.59L114.62,407.09L108.62,407.09Z" fill="#1e9ecb"/><path d="M118.95,425.03L121.95,419.53L115.95,419.53Z" fill="#1e9ecb"/><path d="M126.28,430.50L129.28,425.00L123.28,425.00Z" fill="#1e9ecb"/><path d="M133.62,433.37L136.62,427.87L130.62,427.87Z" fill="#1e9ecb"/><path d="M140.96,429.77L143.96,424.27L137.96,424.27Z" fill="#1e9ecb"/><path d="M148.29,434.39L151.29,428.89L145.29,428.89Z" fill="#1e9ecb"/><path d="M155.62,434.91L158.62,429.41L152.62,429.41Z" fill="#1e9ecb"/><path d="M162.96,442.73L165.96,437.23L159.96,437.23Z" fill="#1e9ecb"/><path d="M170.29,440.78L173.29,435.28L167.29,435.28Z" fill="#1e9ecb"/><path d="M177.63,444.59L180.63,439.09L174.63,439.09Z" fill="#1e9ecb"/><path d="M184.97,437.53L187.97,432.03L181.97,432.03Z" fill="#1e9ecb"/><path d="M192.30,438.33L195.30,432.83L189.30,432.83Z" fill="#1e9ecb"/><path d="M199.63,446.93L202.63,441.43L196.63,441.43Z" fill="#1e9ecb"/><path d="M206.97,439.82L209.97,434.32L203.97,434.32Z" fill="#1e9ecb"/><path d="M214.31,450.55L217.31,445.05L211.31,445.05Z" fill="#1e9ecb"/><path d="M221.64,436.34L224.64,430.84L218.64,430.84Z" fill="#1e9ecb"/><path d="M228.97,440.92L231.97,435.42L225.97,435.42Z" fill="#1e9ecb"/><path d="M236.31,433.37L239.31,427.87L233.31,427.87Z" fill="#1e9ecb"/><path d="M243.64,435.55L246.64,430.05L240.64,430.05Z" fill="#1e9ecb"/><path d="M250.98,442.45L253.98,436.95L247.98,436.95Z" fill="#1e9ecb"/><path d="M258.31,444.88L261.31,439.38L255.31,439.38Z" fill="#1e9ecb"/><path d="M265.65,418.48L268.65,412.98L262.65,412.98Z" fill="#1e9ecb"/><path d="M272.99,434.01L275.99,428.51L269.99,428.51Z" fill="#1e9ecb"/><path d="M280.32,439.55L283.32,434.05L277.32,434.05Z" fill="#1e9ecb"/><path d="M287.66,418.48L290.66,412.98L284.66,412.98Z" fill="#1e9ecb"/><path d="M294.99,388.75L297.99,383.25L291.99,383.25Z" fill="#1e9ecb"/><path d="M304.16,387.84L307.16,382.34L301.16,382.34Z" fill="#1e9ecb"/><path d="M317.00,371.83L320.00,366.33L314.00,366.33Z" fill="#1e9ecb"/><path d="M333.50,388.75L336.50,383.25L330.50,383.25Z" fill="#1e9ecb"/><path d="M353.67,336.60L356.67,331.10L350.67,331.10Z" fill="#1e9ecb"/><path d="M52.94,575.94 L60.27,515.62 L67.61,475.42 L74.94,463.85 L82.28,451.16 L89.61,424.34 L96.94,451.97 L104.28,457.36 L111.62,466.70 L118.95,478.46 L126.28,484.88 L133.62,483.00 L140.96,485.60 L148.29,485.60 L155.62,480.70 L162.96,484.41 L170.29,475.42 L177.63,469.84 L184.97,469.84 L192.30,462.92 L199.63,458.58 L206.97,444.17 L214.31,442.83 L221.64,427.62 L228.97,424.58 L236.31,406.62 L243.64,405.85 L250.98,379.14 L258.31,374.24 L265.65,351.48 L272.99,346.45 L280.32,347.43 L287.66,310.16 L294.99,284.58 L304.16,239.88 L317.00,243.12 L333.50,207.59 L353.67,130.97" fill="none" stroke="#ff0000" stroke-width="1.2" stroke-dasharray="1.2,1.3"/><path d="M214.31,440.26V445.48" stroke="#ff0000" stroke-width="1.2" fill="none" stroke-dasharray="1.2,1.3"/><path d="M221.64,424.97V430.35" stroke="#ff0000" stroke-width="1.2" fill="none" stroke-dasharray="1.2,1.3"/><path d="M228.97,421.66V427.60" stroke="#ff0000" stroke-width="1.2" fill="none" stroke-dasharray="1.2,1.3"/><path d="M236.31,403.66V409.68" stroke="#ff0000" stroke-width="1.2" fill="none" stroke-dasharray="1.2,1.3"/><path d="M243.64,402.55V409.27" stroke="#ff0000" stroke-width="1.2" fill="none" stroke-dasharray="1.2,1.3"/><path d="M250.98,375.96V382.44" stroke="#ff0000" stroke-width="1.2" fill="none" stroke-dasharray="1.2,1.3"/><path d="M258.31,370.77V377.85" stroke="#ff0000" stroke-width="1.2" fill="none" stroke-dasharray="1.2,1.3"/><path d="M265.65,348.06V355.04" stroke="#ff0000" stroke-width="1.2" fill="none" stroke-dasharray="1.2,1.3"/><path d="M272.99,342.72V350.34" stroke="#ff0000" stroke-width="1.2" fill="none" stroke-dasharray="1.2,1.3"/><path d="M280.32,343.24V351.84" stroke="#ff0000" stroke-width="1.2" fill="none" stroke-dasharray="1.2,1.3"/><path d="M287.66,306.34V314.15" stroke="#ff0000" stroke-width="1.2" fill="none" stroke-dasharray="1.2,1.3"/><path d="M294.99,280.87V288.45" stroke="#ff0000" stroke-width="1.2" fill="none" stroke-dasharray="1.2,1.3"/><path d="M304.16,236.55V243.33" stroke="#ff0000" stroke-width="1.2" fill="none" stroke-dasharray="1.2,1.3"/><path d="M317.00,238.99V247.45" stroke="#ff0000" stroke-width="1.2" fill="none" stroke-dasharray="1.2,1.3"/><path d="M333.50,203.21V212.19" stroke="#ff0000" stroke-width="1.2" fill="none" stroke-dasharray="1.2,1.3"/><path d="M353.67,127.08V135.05" stroke="#ff0000" stroke-width="1.2" fill="none" stroke-dasharray="1.2,1.3"/><path d="M52.94,572.34L55.44,575.94L52.94,579.54L50.44,575.94Z" fill="#ff0000"/><path d="M60.27,512.02L62.77,515.62L60.27,519.22L57.77,515.62Z" fill="#ff0000"/><path d="M67.61,471.82L70.11,475.42L67.61,479.02L65.11,475.42Z" fill="#ff0000"/><path d="M74.94,460.25L77.44,463.85L74.94,467.45L72.44,463.85Z" fill="#ff0000"/><path d="M82.28,447.56L84.78,451.16L82.28,454.76L79.78,451.16Z" fill="#ff0000"/><path d="M89.61,420.74L92.11,424.34L89.61,427.94L87.11,424.34Z" fill="#ff0000"/><path d="M96.94,448.37L99.44,451.97L96.94,455.57L94.44,451.97Z" fill="#ff0000"/><path d="M104.28,453.76L106.78,457.36L104.28,460.96L101.78,457.36Z" fill="#ff0000"/><path d="M111.62,463.10L114.12,466.70L111.62,470.30L109.12,466.70Z" fill="#ff0000"/><path d="M118.95,474.86L121.45,478.46L118.95,482.06L116.45,478.46Z" fill="#ff0000"/><path d="M126.28,481.28L128.78,484.88L126.28,488.48L123.78,484.88Z" fill="#ff0000"/><path d="M133.62,479.40L136.12,483.00L133.62,486.60L131.12,483.00Z" fill="#ff0000"/><path d="M140.96,482.00L143.46,485.60L140.96,489.20L138.46,485.60Z" fill="#ff0000"/><path d="M148.29,482.00L150.79,485.60L148.29,489.20L145.79,485.60Z" fill="#ff0000"/><path d="M155.62,477.10L158.12,480.70L155.62,484.30L153.12,480.70Z" fill="#ff0000"/><path d="M162.96,480.81L165.46,484.41L162.96,488.01L160.46,484.41Z" fill="#ff0000"/><path d="M170.29,471.82L172.79,475.42L170.29,479.02L167.79,475.42Z" fill="#ff0000"/><path d="M177.63,466.24L180.13,469.84L177.63,473.44L175.13,469.84Z" fill="#ff0000"/><path d="M184.97,466.24L187.47,469.84L184.97,473.44L182.47,469.84Z" fill="#ff0000"/><path d="M192.30,459.32L194.80,462.92L192.30,466.52L189.80,462.92Z" fill="#ff0000"/><path d="M199.63,454.98L202.13,458.58L199.63,462.18L197.13,458.58Z" fill="#ff0000"/><path d="M206.97,440.57L209.47,444.17L206.97,447.77L204.47,444.17Z" fill="#ff0000"/><path d="M214.31,439.23L216.81,442.83L214.31,446.43L211.81,442.83Z" fill="#ff0000"/><path d="M221.64,424.02L224.14,427.62L221.64,431.22L219.14,427.62Z" fill="#ff0000"/><path d="M228.97,420.98L231.47,424.58L228.97,428.18L226.47,424.58Z" fill="#ff0000"/><path d="M236.31,403.02L238.81,406.62L236.31,410.22L233.81,406.62Z" fill="#ff0000"/><path d="M243.64,402.25L246.14,405.85L243.64,409.45L241.14,405.85Z" fill="#ff0000"/><path d="M250.98,375.54L253.48,379.14L250.98,382.74L248.48,379.14Z" fill="#ff0000"/><path d="M258.31,370.64L260.81,374.24L258.31,377.84L255.81,374.24Z" fill="#ff0000"/><path d="M265.65,347.88L268.15,351.48L265.65,355.08L263.15,351.48Z" fill="#ff0000"/><path d="M272.99,342.85L275.49,346.45L272.99,350.05L270.49,346.45Z" fill="#ff0000"/><path d="M280.32,343.83L282.82,347.43L280.32,351.03L277.82,347.43Z" fill="#ff0000"/><path d="M287.66,306.56L290.16,310.16L287.66,313.76L285.16,310.16Z" fill="#ff0000"/><path d="M294.99,280.98L297.49,284.58L294.99,288.18L292.49,284.58Z" fill="#ff0000"/><path d="M304.16,236.28L306.66,239.88L304.16,243.48L301.66,239.88Z" fill="#ff0000"/><path d="M317.00,239.52L319.50,243.12L317.00,246.72L314.50,243.12Z" fill="#ff0000"/><path d="M333.50,203.99L336.00,207.59L333.50,211.19L331.00,207.59Z" fill="#ff0000"/><path d="M353.67,127.37L356.17,130.97L353.67,134.57L351.17,130.97Z" fill="#ff0000"/></g>
<rect x="45.65" y="17.6" width="325.50" height="299.85" fill="none" stroke="#000" stroke-width="1.35"/><rect x="45.65" y="317.45" width="325.50" height="160.30" fill="none" stroke="#000" stroke-width="1.35"/><path d="M63.94,17.6v4M63.94,317.45v-4M63.94,317.45v2.7M63.94,477.75v-2.6M82.28,17.6v4M82.28,317.45v-4M82.28,317.45v2.7M82.28,477.75v-2.6M100.61,17.6v4M100.61,317.45v-4M100.61,317.45v2.7M100.61,477.75v-2.6M118.95,17.6v8.4M118.95,317.45v-8.4M118.95,317.45v5.5M118.95,477.75v-4.4M137.29,17.6v4M137.29,317.45v-4M137.29,317.45v2.7M137.29,477.75v-2.6M155.62,17.6v4M155.62,317.45v-4M155.62,317.45v2.7M155.62,477.75v-2.6M173.96,17.6v4M173.96,317.45v-4M173.96,317.45v2.7M173.96,477.75v-2.6M192.30,17.6v8.4M192.30,317.45v-8.4M192.30,317.45v5.5M192.30,477.75v-4.4M210.64,17.6v4M210.64,317.45v-4M210.64,317.45v2.7M210.64,477.75v-2.6M228.97,17.6v4M228.97,317.45v-4M228.97,317.45v2.7M228.97,477.75v-2.6M247.31,17.6v4M247.31,317.45v-4M247.31,317.45v2.7M247.31,477.75v-2.6M265.65,17.6v8.4M265.65,317.45v-8.4M265.65,317.45v5.5M265.65,477.75v-4.4M283.99,17.6v4M283.99,317.45v-4M283.99,317.45v2.7M283.99,477.75v-2.6M302.33,17.6v4M302.33,317.45v-4M302.33,317.45v2.7M302.33,477.75v-2.6M320.66,17.6v4M320.66,317.45v-4M320.66,317.45v2.7M320.66,477.75v-2.6M339.00,17.6v8.4M339.00,317.45v-8.4M339.00,317.45v5.5M339.00,477.75v-4.4M357.34,17.6v4M357.34,317.45v-4M357.34,317.45v2.7M357.34,477.75v-2.6M45.65,317.13h6M371.15,317.13h-6M45.65,314.16h6M371.15,314.16h-6M45.65,311.59h6M371.15,311.59h-6M45.65,309.33h6M371.15,309.33h-6M45.65,307.30h11.5M371.15,307.30h-11.5M45.65,293.96h6M371.15,293.96h-6M45.65,286.16h6M371.15,286.16h-6M45.65,280.63h6M371.15,280.63h-6M45.65,276.34h6M371.15,276.34h-6M45.65,272.83h6M371.15,272.83h-6M45.65,269.86h6M371.15,269.86h-6M45.65,267.29h6M371.15,267.29h-6M45.65,265.03h6M371.15,265.03h-6M45.65,263.00h11.5M371.15,263.00h-11.5M45.65,249.66h6M371.15,249.66h-6M45.65,241.86h6M371.15,241.86h-6M45.65,236.33h6M371.15,236.33h-6M45.65,232.04h6M371.15,232.04h-6M45.65,228.53h6M371.15,228.53h-6M45.65,225.56h6M371.15,225.56h-6M45.65,222.99h6M371.15,222.99h-6M45.65,220.73h6M371.15,220.73h-6M45.65,218.70h11.5M371.15,218.70h-11.5M45.65,205.36h6M371.15,205.36h-6M45.65,197.56h6M371.15,197.56h-6M45.65,192.03h6M371.15,192.03h-6M45.65,187.74h6M371.15,187.74h-6M45.65,184.23h6M371.15,184.23h-6M45.65,181.26h6M371.15,181.26h-6M45.65,178.69h6M371.15,178.69h-6M45.65,176.43h6M371.15,176.43h-6M45.65,174.40h11.5M371.15,174.40h-11.5M45.65,161.06h6M371.15,161.06h-6M45.65,153.26h6M371.15,153.26h-6M45.65,147.73h6M371.15,147.73h-6M45.65,143.44h6M371.15,143.44h-6M45.65,139.93h6M371.15,139.93h-6M45.65,136.96h6M371.15,136.96h-6M45.65,134.39h6M371.15,134.39h-6M45.65,132.13h6M371.15,132.13h-6M45.65,130.10h11.5M371.15,130.10h-11.5M45.65,116.76h6M371.15,116.76h-6M45.65,108.96h6M371.15,108.96h-6M45.65,103.43h6M371.15,103.43h-6M45.65,99.14h6M371.15,99.14h-6M45.65,95.63h6M371.15,95.63h-6M45.65,92.66h6M371.15,92.66h-6M45.65,90.09h6M371.15,90.09h-6M45.65,87.83h6M371.15,87.83h-6M45.65,85.80h11.5M371.15,85.80h-11.5M45.65,72.46h6M371.15,72.46h-6M45.65,64.66h6M371.15,64.66h-6M45.65,59.13h6M371.15,59.13h-6M45.65,54.84h6M371.15,54.84h-6M45.65,51.33h6M371.15,51.33h-6M45.65,48.36h6M371.15,48.36h-6M45.65,45.79h6M371.15,45.79h-6M45.65,43.53h6M371.15,43.53h-6M45.65,41.50h11.5M371.15,41.50h-11.5M45.65,28.16h6M371.15,28.16h-6M45.65,20.36h6M371.15,20.36h-6M45.65,477.58h5.2M371.15,477.58h-5.2M45.65,458.06h7.5M371.15,458.06h-7.5M45.65,442.10h5.2M371.15,442.10h-5.2M45.65,428.61h5.2M371.15,428.61h-5.2M45.65,416.93h5.2M371.15,416.93h-5.2M45.65,406.62h5.2M371.15,406.62h-5.2M45.65,397.40h7.5M371.15,397.40h-7.5M45.65,389.06h5.2M371.15,389.06h-5.2M45.65,381.44h5.2M371.15,381.44h-5.2M45.65,374.44h5.2M371.15,374.44h-5.2M45.65,367.96h5.2M371.15,367.96h-5.2M45.65,361.92h5.2M371.15,361.92h-5.2M45.65,356.27h5.2M371.15,356.27h-5.2M45.65,350.96h5.2M371.15,350.96h-5.2M45.65,345.96h5.2M371.15,345.96h-5.2M45.65,341.23h5.2M371.15,341.23h-5.2M45.65,336.74h7.5M371.15,336.74h-7.5M45.65,332.47h5.2M371.15,332.47h-5.2M45.65,328.40h5.2M371.15,328.40h-5.2M45.65,324.51h5.2M371.15,324.51h-5.2M45.65,320.79h5.2M371.15,320.79h-5.2" stroke="#000" stroke-width="1.1" fill="none"/>
<text x="51" y="14.3" font-size="12">900 GeV ppbar</text><text x="366.3" y="14.3" font-size="12" text-anchor="end">Soft QCD</text><text x="103" y="42.5" font-size="12">Multiplicity distribution at </text><path d="M236.6,36.6 L238.1,43.3" fill="none" stroke="#000" stroke-width="1.5"/><path d="M238.1,43.3 L239.7,33.2 L246.6,33.2" fill="none" stroke="#000" stroke-width="0.85"/><text x="240.6" y="42.5" font-size="12" textLength="75.6" lengthAdjust="spacing">s = 900 {GeV}</text><text x="39.5" y="46.40" font-size="10" text-anchor="end">10<tspan font-size="8" dy="-5.5" dx="0.5">2</tspan></text><text x="40.4" y="89.60" font-size="10" text-anchor="end">10</text><text x="40.4" y="133.90" font-size="10" text-anchor="end">1</text><text x="41.6" y="179.30" font-size="10" text-anchor="end">10<tspan font-size="7.3" dy="-5.5" dx="0.1">&#8722;1</tspan></text><text x="39.4" y="223.60" font-size="10" text-anchor="end">10<tspan font-size="7.3" dy="-5.5" dx="0.1">&#8722;2</tspan></text><text x="39.4" y="267.90" font-size="10" text-anchor="end">10<tspan font-size="7.3" dy="-5.5" dx="0.1">&#8722;3</tspan></text><text x="39.6" y="312.20" font-size="10" text-anchor="end">10<tspan font-size="7.3" dy="-5.5" dx="0.1">&#8722;4</tspan></text><text transform="translate(38.2,341.14) scale(0.96,1)" font-size="12" text-anchor="end">2</text><text transform="translate(373.8,341.14) scale(0.97,1)" font-size="12">2</text><text transform="translate(38.2,401.80) scale(0.96,1)" font-size="12" text-anchor="end">1</text><text transform="translate(373.8,401.80) scale(0.97,1)" font-size="12">1</text><text transform="translate(38.2,462.46) scale(0.96,1)" font-size="12" text-anchor="end">0.5</text><text transform="translate(373.8,462.46) scale(0.97,1)" font-size="12">0.5</text><text transform="translate(45.60,489.2) scale(0.9,1)" font-size="12.7" text-anchor="middle">0</text><text transform="translate(118.95,489.2) scale(0.9,1)" font-size="12.7" text-anchor="middle">20</text><text transform="translate(192.30,489.2) scale(0.9,1)" font-size="12.7" text-anchor="middle">40</text><text transform="translate(265.65,489.2) scale(0.9,1)" font-size="12.7" text-anchor="middle">60</text><text transform="translate(339.00,489.2) scale(0.9,1)" font-size="12.7" text-anchor="middle">80</text><text transform="translate(356.6,500.9) scale(0.88,1)" font-size="13">n</text><text x="362.8" y="504.8" font-size="8.2">ch</text><g transform="translate(15.2,17) rotate(-90)"><text x="0" y="0" font-size="11.5" text-anchor="end">d&#963;/d n<tspan font-size="8" dy="2.5">ch</tspan><tspan dy="-2.5"> [mb]</tspan></text></g><g transform="translate(18.1,396.3) rotate(-90)"><text x="0" y="0" font-size="9" text-anchor="middle">Ratio to UA1</text></g><g transform="translate(381.2,120.1) rotate(-90)"><text x="0" y="0" font-size="9" fill="#5a5a5a" textLength="102" lengthAdjust="spacingAndGlyphs">Rivet 4.1.0, &#8805; 100k events</text></g><g transform="translate(382.4,315.3) rotate(-90)"><text x="0" y="0" font-size="9.6" fill="#5a5a5a" textLength="153" lengthAdjust="spacingAndGlyphs">mcplots.cern.ch [arXiv:2401.10621]</text></g><rect x="73.60" y="208.10" width="5.9" height="5.9" fill="#000"/><text x="94.4" y="214.3" font-size="9.4">UA1</text><path d="M63.8,224H87.6" stroke="#b5651d" stroke-width="1.2" stroke-dasharray="3.2,2"/><circle cx="76.50" cy="224.00" r="2.55" fill="none" stroke="#b5651d" stroke-width="1.2"/><text x="94.4" y="227.3" font-size="9.4">Herwig++ 2.7.1 default</text><path d="M63.8,237H87.6" stroke="#3c9614" stroke-width="1.2" stroke-dasharray="3,2"/><rect x="73.80" y="234.30" width="5.4" height="5.4" fill="none" stroke="#3c9614" stroke-width="1.2"/><text x="94.4" y="240.3" font-size="9.4">Herwig 7.2.1 default</text><path d="M63.8,250H87.6" stroke="#0000ff" stroke-width="1.2"/><path d="M76.50,246.90L79.60,252.40L73.40,252.40Z" fill="#0000ff"/><text x="94.4" y="253.3" font-size="9.4">Pythia 8.315 default</text><path d="M63.8,263H87.6" stroke="#1e9ecb" stroke-width="1.2" stroke-dasharray="4,1.6,1.2,1.6"/><path d="M76.50,266.50L79.50,261.00L73.50,261.00Z" fill="#1e9ecb"/><text x="94.4" y="266.3" font-size="9.4">Pythia 8.315 vincia-default</text><path d="M63.8,276H87.6" stroke="#ff0000" stroke-width="1.2" stroke-dasharray="1.2,1.3"/><path d="M76.50,272.40L79.00,276.00L76.50,279.60L74.00,276.00Z" fill="#ff0000"/><text x="94.4" y="279.3" font-size="9.4">Sherpa 1.4.5 default</text><text x="169.5" y="301.5" font-size="8" fill="#8c8c8c">(UA1_1990_I280412)</text>
</svg></body></html>
